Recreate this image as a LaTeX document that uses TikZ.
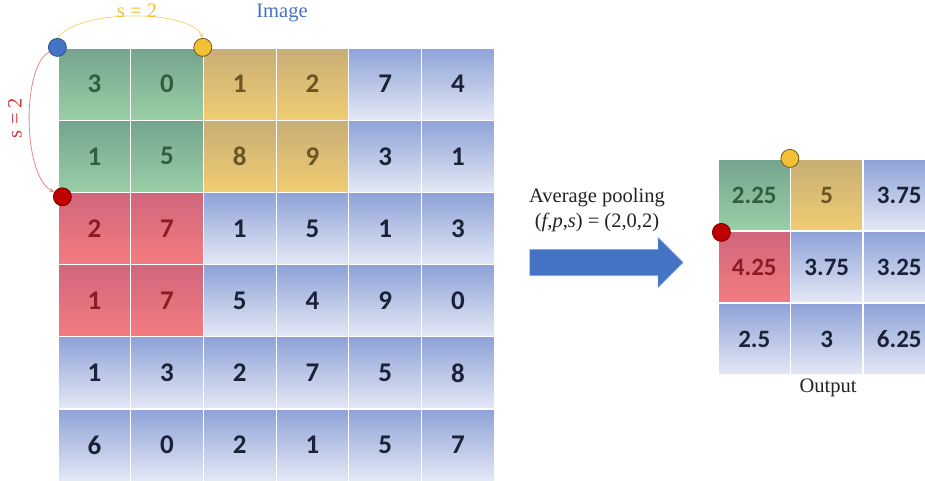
\documentclass[tikz,border=0pt]{standalone}
\usepackage{fontspec}
\setmainfont{Liberation Serif}
\newfontfamily\numfont{Carlito}
\usetikzlibrary{arrows.meta,shapes.arrows}
\definecolor{grntop}{HTML}{74A48E}
\definecolor{grnbot}{HTML}{9ACFA6}
\definecolor{grnink}{HTML}{2F5F3C}
\definecolor{yeltop}{HTML}{C8AE76}
\definecolor{yelbot}{HTML}{F0CC72}
\definecolor{yelink}{HTML}{6B5520}
\definecolor{redtop}{HTML}{D0667C}
\definecolor{redbot}{HTML}{F47C80}
\definecolor{redink}{HTML}{8E1B22}
\definecolor{blutop}{HTML}{8EA2D8}
\definecolor{blubot}{HTML}{E4E9F5}
\definecolor{bluink}{HTML}{1B2238}
\definecolor{pageblue}{HTML}{4472C4}
\definecolor{hopyel}{HTML}{F2C035}
\definecolor{hopred}{HTML}{D03A3A}
\definecolor{inkgray}{HTML}{222222}

\begin{document}
\begin{tikzpicture}[
  x=1pt, y=-1pt,
  font=\fontsize{20.5}{24}\selectfont,
  cell/.style    = {draw=white, line width=1.2pt, minimum width=72.7pt, minimum height=72.2pt,
                    inner sep=0pt, font=\numfont\bfseries\fontsize{27}{30}\selectfont},
  cellgrn/.style = {top color=grntop, bottom color=grnbot, text=grnink},
  cellyel/.style = {top color=yeltop, bottom color=yelbot, text=yelink},
  cellred/.style = {top color=redtop, bottom color=redbot, text=redink},
  cellblu/.style = {top color=blutop, bottom color=blubot, text=bluink},
  dot/.style     = {circle, minimum size=18pt, inner sep=0pt, line width=0.8pt},
  hop/.style     = {-{Stealth[length=5pt,width=4pt]}, line width=0.8pt},
  lbl/.style     = {inner sep=1pt},
]
\useasboundingbox (0,0) rectangle (925,481);

% --- the 6x6 image ---------------------------------------------------------------------------------
\foreach \row [count=\r from 0] in {{3,0,1,2,7,4},{1,5,8,9,3,1},{2,7,1,5,1,3},
                                    {1,7,5,4,9,0},{1,3,2,7,5,8},{6,0,2,1,5,7}}{
  \foreach \v [count=\c from 0] in \row {
    \def\tone{cellblu}
    \ifnum\r<4 \ifnum\c<2 \ifnum\r<2 \def\tone{cellgrn}\else\def\tone{cellred}\fi\fi\fi
    \ifnum\r<2 \ifnum\c>1 \ifnum\c<4 \def\tone{cellyel}\fi\fi\fi
    \node[cell, \tone] (in-\r-\c) at ({58+72.7*(\c+0.5)}, {48+72.2*(\r+0.5)}) {\v};
  }
}
\node[lbl, text=pageblue] (image) at (282,13) {Image};

% --- the 3x3 output --------------------------------------------------------------------------------
\foreach \row [count=\r from 0] in {{2.25,5,3.75},{4.25,3.75,3.25},{2.5,3,6.25}}{
  \foreach \v [count=\c from 0] in \row {
    \def\tone{cellblu}
    \ifnum\r=0 \ifnum\c=0 \def\tone{cellgrn}\fi\ifnum\c=1 \def\tone{cellyel}\fi\fi
    \ifnum\r=1 \ifnum\c=0 \def\tone{cellred}\fi\fi
    \node[cell, \tone, minimum width=72.5pt, minimum height=72pt,
          font=\numfont\bfseries\fontsize{25}{28}\selectfont]
      (out-\r-\c) at ({718+72.5*(\c+0.5)}, {159+72*(\r+0.5)}) {\v};
  }
}
\node[lbl, text=inkgray] (output) at (828,388) {Output};

% --- the pooling step ------------------------------------------------------------------------------
\node[single arrow, fill=pageblue, draw=pageblue!80!white, line width=0.6pt,
      minimum height=153pt, minimum width=49pt, inner sep=12.5pt,
      single arrow head extend=12pt] (pool) at (600,262.5) {};
\node[lbl, text=inkgray] (pooltitle) at (597,198) {Average pooling};
\node[lbl, text=inkgray] (poolargs) at (597,222) {(\textit{f},\textit{p},\textit{s}) = (2,0,2)};

% --- the stride markers ----------------------------------------------------------------------------
\node[dot, fill=pageblue, draw=pageblue!70!black] (start) at (in-0-0.north west) {};
\node[dot, fill=hopyel, draw=yelink] (across) at (in-0-2.north west) {};
\node[dot, fill=red!75!black, draw=red!45!black] (down) at ([shift={(5,5)}]in-2-0.north west) {};
\node[dot, fill=hopyel, draw=yelink] (outacross) at (out-0-1.north west) {};
\node[dot, fill=red!75!black, draw=red!45!black] (outdown) at ([shift={(4,2)}]out-1-0.north west) {};

\draw[hop, draw=hopyel!70!white] (start.north) .. controls (80,8) and (190,10) .. (across.north);
\draw[hop, draw=hopred!60!white] (start.210) .. controls (22,65) and (22,175) .. (down.150);
\node[lbl, text=hopyel] (sacross) at (137,11) {s = 2};
\node[lbl, text=hopred, rotate=90] (sdown) at (15,118) {s = 2};

\end{tikzpicture}
\end{document}
